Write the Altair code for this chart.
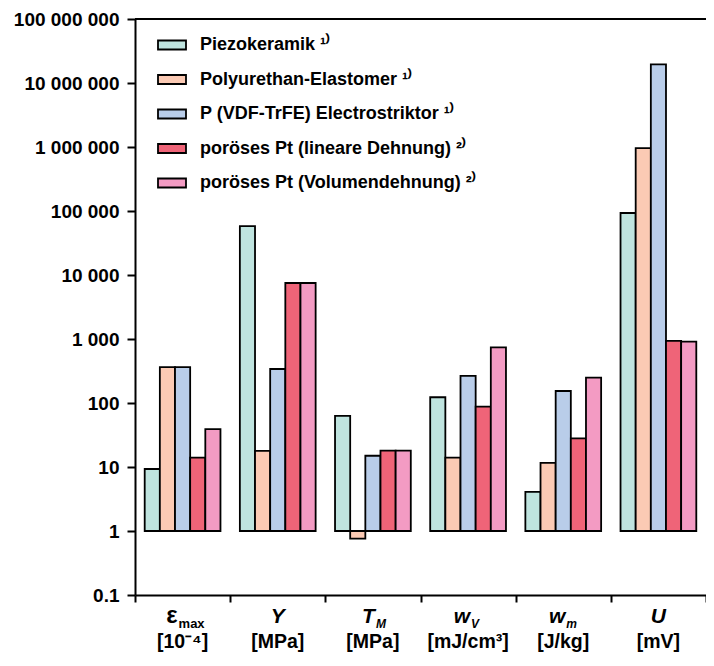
import altair as alt
import pandas as pd

# ---------------- data ----------------
groups = ["eps", "Y", "TM", "wV", "wm", "U"]
series = [
    "Piezokeramik ¹⁾",
    "Polyurethan-Elastomer ¹⁾",
    "P (VDF-TrFE) Electrostriktor ¹⁾",
    "poröses Pt (lineare Dehnung) ²⁾",
    "poröses Pt (Volumendehnung) ²⁾",
]
colors = ["#bfe4df", "#fbcab4", "#b9cde9", "#ef6478", "#f39bc3"]

piezo = [9.3, 58000, 63, 123, 4.1, 93000]
poly = [363, 17.8, 0.76, 14, 11.6, 960000]
vdf = [363, 340, 15, 265, 154, 19600000]
pt_lin = [14, 7500, 18, 88, 28, 935]
pt_vol = [39, 7500, 18, 741, 250, 910]

symbols = ["ε", "Y", "T", "w", "w", "U"]
subscripts = ["max", "", "M", "V", "m", ""]
units = ["[10⁻⁴]", "[MPa]", "[MPa]", "[mJ/cm³]", "[J/kg]", "[mV]"]

y_ticks = [0.1, 1, 10, 100, 1000, 10000, 100000, 1000000, 10000000, 100000000]
y_tick_labels = ["0.1", "1", "10", "100", "1 000", "10 000", "100 000",
                 "1 000 000", "10 000 000", "100 000 000"]

# ---------------- tables ----------------
all_series = [piezo, poly, vdf, pt_lin, pt_vol]
rows = []
for gi, g in enumerate(groups):
    for si, s in enumerate(series):
        rows.append({"group": g, "series": s, "value": all_series[si][gi]})
df = pd.DataFrame(rows)

lab = pd.DataFrame({"group": groups, "sym": symbols, "sub": subscripts, "unit": units})

# label expression built from the tick lists
expr = "'" + y_tick_labels[-1] + "'"
for i in range(len(y_ticks) - 2, -1, -1):
    mid = (y_ticks[i] * y_ticks[i + 1]) ** 0.5
    expr = f"datum.value < {mid} ? '{y_tick_labels[i]}' : ({expr})"

FONT = "Liberation Sans, Arial, sans-serif"
W, H = 571, 576

path = "M-1,-0.32L1,-0.32L1,0.32L-1,0.32Z"

xenc = alt.X("group:N", sort=groups,
             scale=alt.Scale(paddingInner=0, paddingOuter=0),
             axis=alt.Axis(labels=False, title=None, tickBand="extent",
                           tickSize=7, tickWidth=2, domainWidth=2,
                           domainColor="black", tickColor="black", grid=False))

yscale = alt.Scale(type="log", domain=[0.1, 100000000], nice=False)

bars = alt.Chart(df).mark_bar(stroke="black", strokeWidth=1.8, opacity=1).encode(
    x=xenc,
    xOffset=alt.XOffset("series:N", sort=series,
                        scale=alt.Scale(paddingInner=0, paddingOuter=0.64)),
    y=alt.Y("value:Q", scale=yscale,
            axis=alt.Axis(values=y_ticks, labelExpr=expr, title=None, grid=False,
                          tickSize=8, tickWidth=2, domainWidth=2,
                          domainColor="black", tickColor="black",
                          labelFont=FONT, labelFontSize=19, labelFontWeight="bold",
                          labelColor="black", labelPadding=8, labelOverlap=False)),
    y2=alt.datum(1),
    color=alt.Color("series:N", sort=series,
                    scale=alt.Scale(domain=series, range=colors),
                    legend=alt.Legend(orient="none", legendX=22, legendY=11, title=None,
                                      symbolType=path, symbolSize=784,
                                      symbolStrokeColor="black", symbolStrokeWidth=1.8,
                                      symbolOpacity=1, labelFont=FONT, labelFontSize=18,
                                      labelFontWeight="bold", labelColor="black",
                                      labelOffset=13, rowPadding=10.5, labelLimit=500,
                                      padding=0)),
)

top_rule = alt.Chart(pd.DataFrame({"v": [100000000]})).mark_rule(
    color="black", strokeWidth=2).encode(y=alt.Y("v:Q", scale=yscale))

xt = alt.X("group:N", sort=groups)
eps_sym = alt.Chart(lab).transform_filter("datum.sym == 'ε'").mark_text(
    font=FONT, fontSize=24, fontWeight="bold", align="right", baseline="alphabetic",
    dx=-5, color="black").encode(x=xt, text="sym:N", y=alt.value(H + 28))
ital_sym = alt.Chart(lab).transform_filter("datum.sym != 'ε' && datum.sub != ''").mark_text(
    font=FONT, fontSize=21, fontWeight="bold", fontStyle="italic", align="right",
    baseline="alphabetic", dx=2, color="black").encode(x=xt, text="sym:N", y=alt.value(H + 28))
plain_sym = alt.Chart(lab).transform_filter("datum.sub == ''").mark_text(
    font=FONT, fontSize=21, fontWeight="bold", fontStyle="italic", align="center",
    baseline="alphabetic", color="black").encode(x=xt, text="sym:N", y=alt.value(H + 28))
sub_eps = alt.Chart(lab).transform_filter("datum.sym == 'ε'").mark_text(
    font=FONT, fontSize=13, fontWeight="bold", align="left",
    baseline="alphabetic", dx=-4, color="black").encode(x=xt, text="sub:N", y=alt.value(H + 33))
sub_it = alt.Chart(lab).transform_filter("datum.sym != 'ε' && datum.sub != ''").mark_text(
    font=FONT, fontSize=12, fontWeight="bold", fontStyle="italic", align="left",
    baseline="alphabetic", dx=3, color="black").encode(x=xt, text="sub:N", y=alt.value(H + 33))
unit_t = alt.Chart(lab).mark_text(
    font=FONT, fontSize=19.5, fontWeight="bold", align="center",
    baseline="alphabetic", color="black").encode(x=xt, text="unit:N", y=alt.value(H + 53))

chart = alt.layer(bars, top_rule, eps_sym, ital_sym, plain_sym, sub_eps, sub_it, unit_t).properties(
    width=W, height=H,
    autosize=alt.AutoSizeParams(type="none"),
    padding={"left": 127, "top": 11, "right": 0, "bottom": 58},
).configure_view(stroke=None)

chart.save("out.html", embed_options={"renderer": "svg", "actions": False})
